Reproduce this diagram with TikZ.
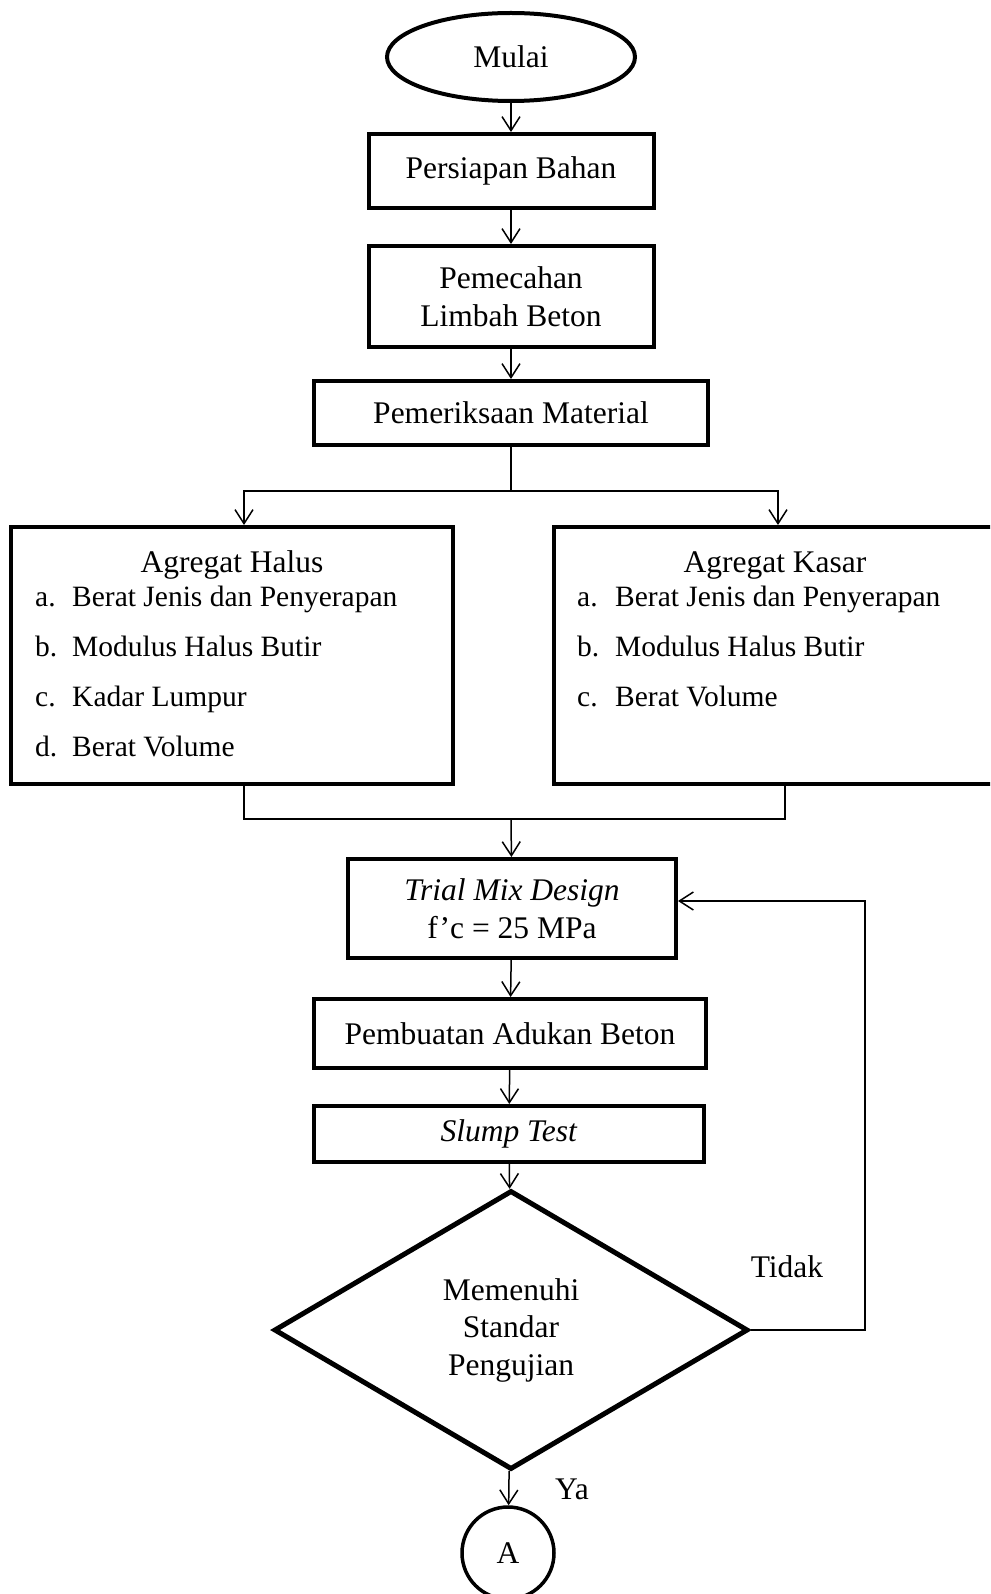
\documentclass[tikz,border=0pt]{standalone}
\usepackage{fontspec}
\setmainfont{Liberation Serif}
\usetikzlibrary{shapes.geometric}
\usetikzlibrary{arrows.meta, positioning}

\begin{document}
\begin{tikzpicture}[x=1pt,y=-1pt,
    every node/.style={font=\fontsize{31.5}{37.5}\selectfont},
    proc/.style={draw,line width=4pt,align=center,inner sep=0pt},
    item/.style={font=\fontsize{29.5}{35}\selectfont,anchor=mid west,
        inner sep=0pt},
    arr/.style={line width=1.5pt,-{Straight Barb[length=14pt,width=18pt]}},
    line/.style={line width=1.5pt}]
    \clip (0,0) rectangle (990,1594);

    \node[draw,ellipse,line width=4pt,minimum width=248pt,minimum height=88pt] (mulai) at (511,57) {Mulai};
    \node[proc,minimum width=285pt,minimum height=74pt] (bahan) at (511,171) {Persiapan Bahan};
    \node[proc,minimum width=285pt,minimum height=101pt] (pecah) at (511,296.5) {Pemecahan\\Limbah Beton};
    \node[proc,minimum width=394pt,minimum height=64pt] (periksa) at (511,413) {Pemeriksaan Material};

    \node[proc,minimum width=442pt,minimum height=257pt] (halus) at (232,655.5) {};
    \node[proc,minimum width=442pt,minimum height=257pt] (kasar) at (775,655.5) {};
    \node (judulH) at (232,565) {Agregat Halus};
    \node (judulK) at (775,565) {Agregat Kasar};
    \foreach \lbl/\txt [count=\i] in {a./Berat Jenis dan Penyerapan,
        b./Modulus Halus Butir, c./Kadar Lumpur, d./Berat Volume}{
        \node[item] (hl\i) at (35,554+50*\i) {\lbl};
        \node[item] (ht\i) at (72,554+50*\i) {\txt};
    }
    \foreach \lbl/\txt [count=\i] in {a./Berat Jenis dan Penyerapan,
        b./Modulus Halus Butir, c./Berat Volume}{
        \node[item] (kl\i) at (577,554+50*\i) {\lbl};
        \node[item] (kt\i) at (615,554+50*\i) {\txt};
    }

    \node[proc,minimum width=328pt,minimum height=99pt] (trial) at (512,908.5) {\textit{Trial Mix Design}\\f’c = 25 MPa};
    \node[proc,minimum width=392pt,minimum height=69pt] (aduk) at (510,1033.5) {Pembuatan Adukan Beton};
    \node[proc,minimum width=390pt,minimum height=56pt] (slump) at (509,1134) {\textit{Slump Test}};
    \node[draw,diamond,line width=5pt,align=center,inner sep=0pt,
        minimum width=474pt,minimum height=279pt] (cek) at (511,1330) {Memenuhi\\Standar\\Pengujian};
    \node[draw,circle,line width=3.5pt,minimum size=92pt,inner sep=0pt] (titikA) at (508,1553) {A};

    \node (ya) at (572,1489) {Ya};
    \node (tidak) at (787,1267) {Tidak};

    \coordinate (bagi) at (511,491);
    \coordinate (gabung) at (511,819);
    \coordinate (balik) at (865,901);

    \draw[arr] (mulai) -- (bahan);
    \draw[arr] (bahan) -- (pecah);
    \draw[arr] (pecah) -- (periksa);
    \draw[line] (periksa) -- (bagi);
    \draw[arr] (bagi) -| ([xshift=12pt]halus.north);
    \draw[arr] (bagi) -| ([xshift=3pt]kasar.north);
    \draw[line] ([xshift=12pt]halus.south) |- (gabung);
    \draw[line] ([xshift=10pt]kasar.south) |- (gabung);
    \draw[arr] (gabung) -- (trial);
    \draw[arr] (trial) -- (aduk);
    \draw[arr] (aduk) -- (slump);
    \draw[arr] (slump) -- (cek);
    \draw[arr] (cek) -- (titikA);
    \draw[arr] (cek.east) -| (balik) -- (balik -| trial.east);

\end{tikzpicture}
\end{document}
